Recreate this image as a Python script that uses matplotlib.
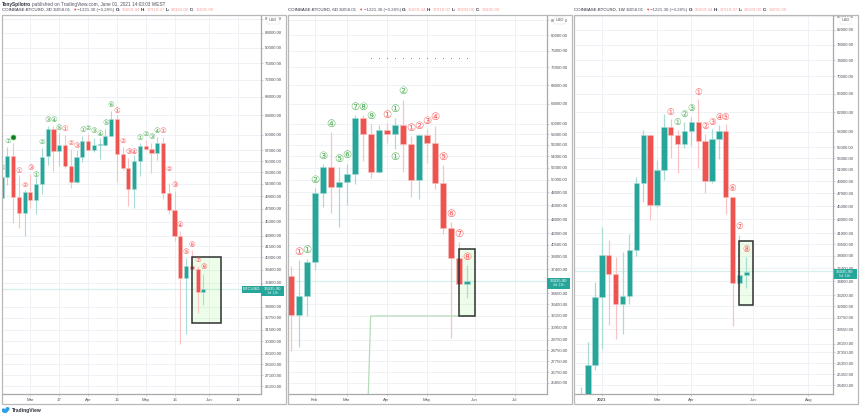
import matplotlib
matplotlib.use('Agg')
import matplotlib.pyplot as plt
from matplotlib.patches import Rectangle, Ellipse
from matplotlib.ticker import NullLocator

plt.rcParams['font.family'] = ['Liberation Sans', 'DejaVu Sans']

# 3D chart, body top / bottom, wick high / low
top1 = [52180,55940,55940,48850,49660,49660,50990,55750,61160,61160,58010,58010,54120,55750,58780,58780,58010,58200,59760,63210,63210,56310,53760,55020,57820,57820,57250,58390,58390,49500,46790,42940,38880,38880,38500,36040]
bot1 = [48680,52180,48850,46330,46330,48360,48360,50990,55940,56870,56870,54120,51330,51330,55750,57060,57060,58010,58010,59760,56310,53760,50150,50150,55020,57250,56490,56490,49500,46790,42940,37370,37370,38500,35680,35680]
high1 = [53410,57630,58390,52530,49990,52700,52180,57430,61770,61770,60350,59960,57250,57060,59760,60160,59370,59370,61160,64910,64060,57630,55570,56120,58390,58970,58390,59560,59560,51160,49820,43650,39930,41000,38880,37870]
low1 = [47570,50820,44820,44090,42940,47100,46180,49330,54300,53230,54120,53760,50320,51160,54840,57060,56680,55380,57820,59760,51330,53410,47410,47100,52360,57060,52880,55200,48520,46180,42230,30050,31060,38500,33290,34180]
dirs1 = "ggrrgrgggrgrrggrggggrrrggrrgrrrrgrrg"

# 6D chart
top2 = [36590,34290,38290,47900,52120,52120,49640,50950,61110,61110,58010,58770,58770,59730,59730,56160,57830,57830,56340,49480,42760,38790,36000]
bot2 = [32230,32230,34290,38290,47900,48840,48840,49640,50950,58010,51280,51280,58010,58010,56160,49970,49970,56340,49480,42760,38790,35650,35650]
high2 = [37790,38540,38660,48680,52630,58390,52120,52630,61710,61710,59930,59730,60120,61110,64790,57640,58010,58960,59540,52460,43600,40860,37920]
low2 = [28680,29050,32130,37310,45770,44890,42890,46070,49320,53150,50290,51110,56340,55260,51280,47280,46980,52800,48530,41930,29910,35650,34060]
dirs2 = "rggggrgggrrgrgrrgrrrrrg"

# 1W chart
top3 = [23630,26180,33000,38080,38080,35690,33120,38740,48670,57330,57330,50880,58910,58910,57330,58110,59920,59920,56170,56550,58110,58110,46410,35570,35940]
bot3 = [23230,23230,26180,33000,35690,32230,32230,33120,38740,48670,45160,45160,50880,57330,55590,55590,58110,56170,49010,49010,56550,46410,34620,34620,35570]
high3 = [24290,28310,34730,41900,40080,37820,38470,40910,49680,58310,57520,52640,61580,60540,58310,59920,60950,64810,57520,58510,59310,59520,46410,40770,37820]
low3 = [23230,23230,25730,27640,30000,28600,29090,32230,37950,45620,42910,44850,49170,53000,50360,54840,55220,51230,47040,48670,52820,43790,29900,34150,34030]
dirs3 = "ggggrrggggrggrrggrrggrrgg"

# sequential count labels
lab_x1 = list(range(36))
lab_y1 = [53760,58780,59560,53230,50820,53760,52530,58590,63000,63000,61360,61160,58390,57820,60960,61360,60760,60160,62380,66210,64910,58780,56680,56680,59370,60160,59560,60760,60760,53580,50820,44530,40730,41680,39660,38760]
lab_n1 = "679123123451231234561234123412345678"
lab_c1 = "ggg" + "rrr" + "ggggg" + "rrr" + "gggggg" + "rrrr" + "gggg" + "rrrrrrrr"

lab_x2 = [1,2,3,4,5,6,7,8,9,10,12,13,13,14,15,16,17,18,19,20,21,22]
lab_y2 = [39550,39810,49970,54010,59930,53490,54190,63330,63330,61510,61710,62920,53840,66710,59160,59540,60520,61310,53840,44740,41930,38910]
lab_n2 = "1123456789111212345678"
lab_c2 = "rggggggggg" + "rggg" + "rrrrrrrr"

lab_x3 = [13,14,15,16,17,18,19,20,21,22,23,24]
lab_y3 = [62000,59920,61580,62850,66370,59110,59920,60950,60950,47690,41900,38870]
lab_n3 = "112312345678"
lab_c3 = "rggg" + "rrrrrrrr"

ticks1 = [88000,84000,80000,76000,72000,68000,64000,60000,57000,55000,53000,51000,49000,47000,45000,43000,41500,40000,38400,36800,34000,32750,31500,30300,29100,28100,27100,26150]
ticks2 = [84000,80000,76000,72000,68000,64000,60000,58000,56000,54000,52000,50000,48000,46000,44000,42000,40500,39000,37400,34600,33400,32150,30950,29750,28750,27750,26750,25850]
ticks3 = [86000,82000,78000,74000,70000,66000,62000,58000,55000,53000,51000,49000,47000,45000,43000,41000,39500,38000,36400,34800,33200,32000,30750,29550,28150,27350,26350,25350,24450]

xt1 = [5,10,15,20,25,30,36,41]
xl1 = ['Mar','17','Apr','16','May','16','Jun','18']
xt2 = [3,7,12,17,23,28]
xl2 = ['Feb','Mar','Apr','May','Jun','Jul']
xt3 = [3,11,16,25,33]
xl3 = ['2021','Mar','Apr','Jun','Aug']

last_price = 36035.90
box1 = (33, 38, 32206, 40058)
box2 = (21, 23, 32130, 39937)
box3 = (23, 25, 32116, 39944)

line2_x = [9.7, 10, 21]
line2_y = [24941, 32130, 32130]
dots2_x = list(range(10, 23))
dots2_y = [74250] * 13

UP, DOWN = '#26a69a', '#ef5350'
UP_W, DOWN_W = '#a9dcd5', '#f9c3c1'
TXT = '#50535e'
CIRC = '①②③④⑤⑥⑦⑧⑨'

W, H = 860, 417
fig = plt.figure(figsize=(W / 100, H / 100), dpi=100, facecolor='white')


def make_ax(x0, x1, xlim, ylim, ticks):
    ax = fig.add_axes([x0 / W, 1 - 394 / H, (x1 - x0) / W, (394 - 15) / H])
    ax.set_yscale('log')
    ax.set_xlim(*xlim)
    ax.set_ylim(*ylim)
    ax.yaxis.tick_right()
    ax.yaxis.set_minor_locator(NullLocator())
    ax.set_yticks(ticks)
    ax.set_yticklabels(['%.2f' % t for t in ticks])
    for s in ('top', 'left'):
        ax.spines[s].set_visible(False)
    for s in ('right', 'bottom'):
        ax.spines[s].set_color('#a8a8a8')
        ax.spines[s].set_linewidth(0.9)
    ax.tick_params(axis='both', labelsize=3.1, labelcolor=TXT, color='#b0b0b0', length=1.5, width=0.4, pad=1.2)
    ax.grid(True, color='#eef2f6', linewidth=0.7)
    ax.set_axisbelow(True)
    return ax


def candles(ax, top, bot, high, low, dirs, width, lw):
    xs = range(len(top))
    for i, (t, b, h, l, d) in enumerate(zip(top, bot, high, low, dirs)):
        wick = UP_W if d == 'g' else DOWN_W
        ax.plot([i, i], [l, h], color=wick, lw=lw, zorder=2, solid_capstyle='butt')
    colors = [UP if d == 'g' else DOWN for d in dirs]
    edges = [UP_W if d == 'g' else DOWN_W for d in dirs]
    ax.bar(list(xs), [t - b for t, b in zip(top, bot)], bottom=bot, width=width,
           color=colors, edgecolor=edges, linewidth=0.4, zorder=3)


def count_labels(ax, xs, ys, nums, cols, size):
    for x, y, n, c in zip(xs, ys, nums, cols):
        col = '#55b05a' if c == 'g' else '#fb5c5c'
        ax.text(x, y, CIRC[int(n) - 1], color=col, fontsize=size, ha='center', va='center',
                family=['DejaVu Sans'], zorder=5, clip_on=True)


def draw_box(ax, box):
    ax.add_patch(Rectangle((box[0], box[2]), box[1] - box[0], box[3] - box[2], facecolor='#7cf060',
                           alpha=0.13, edgecolor='none', zorder=1.5))
    ax.add_patch(Rectangle((box[0], box[2]), box[1] - box[0], box[3] - box[2], fill=False,
                           edgecolor='#2e312f', linewidth=1.1, zorder=4))


ax1 = make_ax(2, 261, (0.07, 45.0), (25468, 89150), ticks1)
ax2 = make_ax(287.7, 547, (-0.37, 32.04), (24941, 85375), ticks2)
ax3 = make_ax(574, 833, (-1.06, 36.6), (23713, 86294), ticks3)

ax1.set_xticks(xt1, xl1)
ax2.set_xticks(xt2, xl2)
ax3.set_xticks(xt3, xl3)
ax3.get_xticklabels()[0].set_fontweight('bold')

for ax in (ax1, ax2, ax3):
    ax.axhline(last_price, color='#d5efeb', lw=0.9, zorder=1)

draw_box(ax1, box1)
draw_box(ax2, box2)
draw_box(ax3, box3)

candles(ax1, top1, bot1, high1, low1, dirs1, 0.72, 0.8)
candles(ax2, top2, bot2, high2, low2, dirs2, 0.78, 0.9)
candles(ax3, top3, bot3, high3, low3, dirs3, 0.78, 0.9)

ax2.plot(line2_x, line2_y, color='#b5dcb7', lw=0.9, zorder=2)
ax2.plot(dots2_x, dots2_y, ls='none', marker='o', ms=0.7, mec='none', color='#666666', zorder=2)

# dark filled setup dot, it takes the place of the 9 on the 3D chart
dot_i = lab_n1.index('9')
ax1.plot([lab_x1[dot_i]], [lab_y1[dot_i]], ls='none', marker='o', ms=3.6, color='#0e7d1e', mec='#5fbf66', mew=0.4, zorder=5)
keep = [i for i in range(len(lab_x1)) if i != dot_i]
count_labels(ax1, [lab_x1[i] for i in keep], [lab_y1[i] for i in keep], [lab_n1[i] for i in keep], [lab_c1[i] for i in keep], 5.4)
count_labels(ax2, lab_x2, lab_y2, lab_n2, lab_c2, 7.4)
count_labels(ax3, lab_x3, lab_y3, lab_n3, lab_c3, 6.2)

# overlay in pixels for the frames, tags, header and footer
ov = fig.add_axes([0, 0, 1, 1], facecolor='none')
ov.set_xlim(0, W)
ov.set_ylim(H, 0)
ov.axis('off')

for x0, x1 in ((1.5, 286), (287.7, 572), (574, 858)):
    ov.add_patch(Rectangle((x0, 15), x1 - x0, 389, fill=False, edgecolor='#b8b8b8', linewidth=0.9))

# price tags
for x0, y0, h, s, c in ((261, 286, 10, '36035.90', '1d 11h'), (547, 278, 11, '36035.90', '4d 11h'), (833.5, 269, 10, '36035.90', '5d 11h')):
    ov.add_patch(Rectangle((x0, y0), 23, h, facecolor=UP, edgecolor='none'))
    ov.text(x0 + 11.5, y0 + 3, s, color='white', fontsize=3.1, ha='center', va='center')
    ov.text(x0 + 11.5, y0 + 7.3, c, color='#d5f0ec', fontsize=2.7, ha='center', va='center')
ov.add_patch(Rectangle((242, 286), 19, 6.5, facecolor=UP, edgecolor='none'))
ov.text(251.5, 289.3, 'BTCUSD', color='white', fontsize=3.0, ha='center', va='center')

for x in (273, 559.5, 845.5):
    ov.text(x, 20.2, 'USD', color=TXT, fontsize=2.9, ha='center', va='center',
            bbox=dict(boxstyle='square,pad=0.35', fc='white', ec='#dcdcdc', lw=0.3))

renderer = fig.canvas.get_renderer()


def run_text(x, y, runs, size=3.15):
    for txt, col, weight in runs:
        t = ov.text(x, y, txt, color=col, fontsize=size, fontweight=weight, ha='left', va='center')
        x += t.get_window_extent(renderer).width + 1.0


PINK = '#f9a09c'
DK = '#2a2e39'


def header(x, tf):
    run_text(x, 10, [('COINBASE:BTCUSD, ' + tf, DK, 'normal'), ('36058.01', TXT, 'normal'), ('▼', DOWN, 'normal'),
                     ('−1221.30 (−3.28%)', TXT, 'normal'), ('O:', DK, 'bold'), ('35669.44', PINK, 'normal'),
                     ('H:', DK, 'bold'), ('37918.97', PINK, 'normal'), ('L:', DK, 'bold'), ('34183.00', PINK, 'normal'),
                     ('C:', DK, 'bold'), ('36035.90', PINK, 'normal')])


run_text(2, 4, [('TonySpilotro', DK, 'bold'), ('published on TradingView.com, June 01, 2021 14:03:03 WEST', TXT, 'normal')], size=3.4)
header(2, '3D')
header(288, '6D')
header(574, '1W')

# footer logo
for cx, cy, w, h in ((5, 411, 6, 4), (7.5, 409, 4, 4), (3.5, 409.8, 3, 3)):
    ov.add_patch(Ellipse((cx, cy), w, h, facecolor='#2c9fe6', edgecolor='none'))
ov.text(11.5, 410.5, 'TradingView', color=DK, fontsize=3.6, fontweight='bold', ha='left', va='center')

fig.savefig('out.png', dpi=100)
